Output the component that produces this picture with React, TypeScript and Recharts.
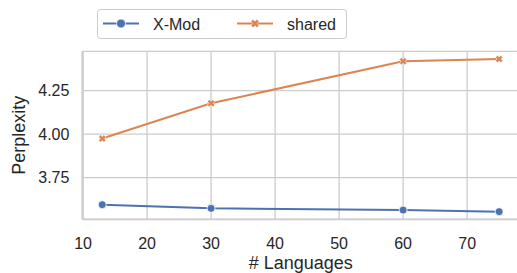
import React from "react";
import { LineChart, Line, XAxis, YAxis, CartesianGrid } from "recharts";

const languages = [13, 30, 60, 75];
const xmodValues = [3.595, 3.574, 3.564, 3.555];
const sharedValues = [3.975, 4.178, 4.419, 4.432];
const xTicks = [10, 20, 30, 40, 50, 60, 70];
const yTicks = [3.75, 4.0, 4.25];
const seriesNames = ["X-Mod", "shared"];
const colors = ["#4c72b0", "#dd8452"];

const data = languages.map((l, i) => ({ lang: l, xmod: xmodValues[i], shared: sharedValues[i] }));

const FONT = '"Liberation Sans", Arial, sans-serif';
const TEXT = "#262626";
const GRID = "#cccccc";

function xPath(cx: number, cy: number, k: number) {
  const w = 0.19;
  const pts: [number, number][] = [
    [w, 0.5], [-w, 0.5], [-w, w], [-0.5, w], [-0.5, -w], [-w, -w],
    [-w, -0.5], [w, -0.5], [w, -w], [0.5, -w], [0.5, w], [w, w],
  ];
  const c = Math.SQRT1_2;
  return (
    pts
      .map(([x, y], i) => {
        const rx = (x * c - y * c) * k + cx;
        const ry = (x * c + y * c) * k + cy;
        return (i === 0 ? "M" : "L") + rx.toFixed(2) + "," + ry.toFixed(2);
      })
      .join(" ") + " Z"
  );
}

const XDot = (props: any) => {
  const { cx, cy } = props;
  if (cx == null || cy == null) return null;
  return <path d={xPath(cx, cy, 7.6)} fill={colors[1]} stroke="#ffffff" strokeWidth={0.6} />;
};

const CircleDot = (props: any) => {
  const { cx, cy } = props;
  if (cx == null || cy == null) return null;
  return <circle cx={cx} cy={cy} r={4} fill={colors[0]} stroke="#ffffff" strokeWidth={0.8} />;
};

const LegendBox = () => (
  <svg
    width={260}
    height={40}
    style={{ position: "absolute", left: 90, top: 4, overflow: "visible" }}
  >
    <rect x={7.5} y={5.5} width={249} height={29} rx={3} fill="#ffffff" fillOpacity={0.8} stroke={GRID} strokeWidth={1} />
    <line x1={13} x2={49} y1={19.5} y2={19.5} stroke={colors[0]} strokeWidth={2} />
    <circle cx={31} cy={19.5} r={4.5} fill={colors[0]} stroke="#ffffff" strokeWidth={0.8} />
    <text x={63} y={25.5} fontSize={16} fontFamily={FONT} fill={TEXT}>{seriesNames[0]}</text>
    <line x1={147} x2={183} y1={19.5} y2={19.5} stroke={colors[1]} strokeWidth={2} />
    <path d={xPath(165, 19.5, 8.5)} fill={colors[1]} stroke="#ffffff" strokeWidth={0.6} />
    <text x={197} y={25.5} fontSize={16} fontFamily={FONT} fill={TEXT}>{seriesNames[1]}</text>
  </svg>
);

export default function App() {
  const tickStyle = { fontSize: 16, fontFamily: FONT, fill: TEXT };
  return (
    <div
      style={{
        position: "absolute",
        left: 0,
        top: 0,
        width: 517,
        height: 273,
        overflow: "hidden",
        background: "#ffffff",
      }}
    >
      <LineChart width={519} height={273} data={data} margin={{ top: 51.4, right: 0, bottom: 0, left: 0 }}>
        <CartesianGrid stroke={GRID} strokeWidth={1.3} vertical horizontal />
        <XAxis
          dataKey="lang"
          type="number"
          domain={[9.9, 78.1]}
          ticks={xTicks}
          allowDataOverflow
          height={53.7}
          tickLine={false}
          tickSize={0}
          tickMargin={18}
          axisLine={{ stroke: GRID, strokeWidth: 1.8 }}
          tick={tickStyle}
          label={(p: any) => {
            const vb = p.viewBox;
            return (
              <text
                x={vb.x + vb.width / 2}
                y={269}
                textAnchor="middle"
                fontSize={18}
                fontFamily={FONT}
                fill={TEXT}
              >
                # Languages
              </text>
            );
          }}
        />
        <XAxis xAxisId="top" orientation="top" dataKey="lang" type="number" domain={[9.9, 78.1]} height={0} tick={false} tickLine={false} axisLine={{ stroke: GRID, strokeWidth: 1.8 }} />
        <YAxis
          type="number"
          domain={[3.511, 4.476]}
          ticks={yTicks}
          allowDataOverflow
          width={82.4}
          tickLine={false}
          tickSize={0}
          tickMargin={13}
          axisLine={{ stroke: GRID, strokeWidth: 1.8 }}
          tick={tickStyle}
          tickFormatter={(v: number) => v.toFixed(2)}
          label={(p: any) => {
            const vb = p.viewBox;
            const cy = vb.y + vb.height / 2;
            return (
              <text
                x={25}
                y={cy}
                transform={`rotate(-90, 25, ${cy})`}
                textAnchor="middle"
                fontSize={18}
                fontFamily={FONT}
                fill={TEXT}
              >
                Perplexity
              </text>
            );
          }}
        />
        <Line
          dataKey="xmod"
          name={seriesNames[0]}
          stroke={colors[0]}
          strokeWidth={2}
          dot={<CircleDot />}
          activeDot={false}
          isAnimationActive={false}
        />
        <Line
          dataKey="shared"
          name={seriesNames[1]}
          stroke={colors[1]}
          strokeWidth={2}
          dot={<XDot />}
          activeDot={false}
          isAnimationActive={false}
        />
      </LineChart>
      <LegendBox />
    </div>
  );
}
